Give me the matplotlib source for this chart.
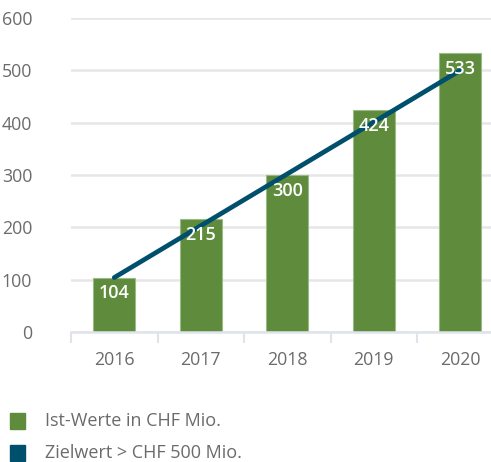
import matplotlib
matplotlib.use("Agg")
import matplotlib.pyplot as plt
from matplotlib.patches import Rectangle

years = ["2016", "2017", "2018", "2019", "2020"]
actual = [104, 215, 300, 424, 533]
target = [104, 203, 302, 401, 500]
legend_labels = ["Ist-Werte in CHF Mio.", "Zielwert > CHF 500 Mio."]
yticks = [0, 100, 200, 300, 400, 500, 600]

GREEN = "#5f8b3d"
TEAL = "#004f6c"
GRAY_TEXT = "#6b6b6b"

plt.rcParams["font.family"] = ["Open Sans", "DejaVu Sans"]

W, H = 491, 462
fig = plt.figure(figsize=(W / 100, H / 100), dpi=100)
ax = fig.add_axes([71 / W, 1 - 332 / H, 432.5 / W, 314 / H])

x = list(range(len(years)))
ax.bar(x, actual, width=0.48, color=GREEN, edgecolor="#9bbb86", linewidth=0.8, zorder=2)
for xi, v in zip(x, actual):
    ax.text(xi, v - 30, str(v), ha="center", va="center", color="white",
            fontsize=13, fontweight="semibold", zorder=4)

ax.plot(x, target, color=TEAL, linewidth=3.4, solid_capstyle="round", zorder=3)

ax.set_xlim(-0.5, len(years) - 0.5)
ax.set_ylim(0, 600)
ax.set_yticks(yticks)
ax.set_yticklabels([str(t) for t in yticks])
ax.yaxis.grid(True, color="#e6e6e6", linewidth=1.8, zorder=0)
ax.set_axisbelow(True)
for s in ["top", "right", "left"]:
    ax.spines[s].set_visible(False)
ax.spines["bottom"].set_color("#dfe4ec")
ax.spines["bottom"].set_linewidth(1.8)
ax.tick_params(axis="y", length=0, pad=28, labelsize=12.8, labelcolor=GRAY_TEXT)

ax.set_xticks(x)
ax.set_xticklabels(years)
ax.set_xticks([i - 0.5 for i in range(len(years) + 1)], minor=True)
ax.tick_params(axis="x", which="major", length=0, pad=14, labelsize=12.8, labelcolor=GRAY_TEXT)
ax.tick_params(axis="x", which="minor", length=8, width=1.5, color="#dfe4ec")
for lab in ax.get_yticklabels():
    lab.set_horizontalalignment("right")

# legend drawn by hand to match the layout
for i, (lab, col) in enumerate(zip(legend_labels, [GREEN, TEAL])):
    yc = 421 + i * 32
    fig.add_artist(Rectangle((10 / W, 1 - (yc + 8) / H), 15 / W, 16 / H,
                             transform=fig.transFigure, color=col))
    fig.text(45 / W, 1 - yc / H, lab, ha="left", va="center",
             fontsize=13, color=GRAY_TEXT)

fig.savefig("out.png", dpi=100)
